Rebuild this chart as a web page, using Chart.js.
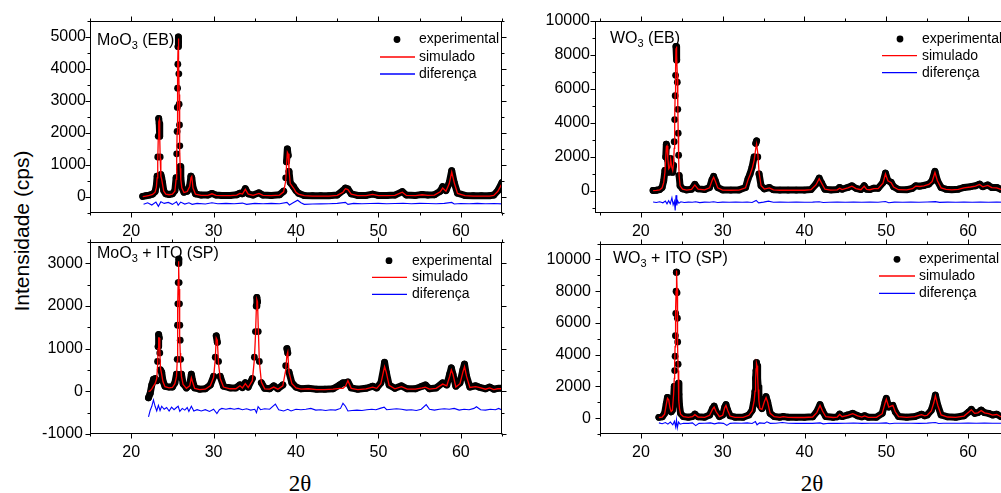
<!DOCTYPE html>
<html>
<head>
<meta charset="utf-8">
<script src="https://cdn.jsdelivr.net/npm/chart.js@4.4.1/dist/chart.umd.min.js"></script>
<style>
  html, body { margin: 0; padding: 0; background: #fff; overflow: hidden; width: 1001px; height: 493px; }
  body { position: relative; font-family: "Liberation Sans", Arial, sans-serif; }
  canvas { position: absolute; }
  #ytitle { position: absolute; left: 22px; top: 231px; transform: translate(-50%, -50%) rotate(-90deg);
            font-size: 21px; white-space: nowrap; color: #000; }
  .xtitle { position: absolute; top: 470px; transform: translateX(-50%); font-family: "Liberation Serif", serif;
            font-size: 23px; line-height: 28px; color: #000; white-space: nowrap; }
</style>
</head>
<body>
<div id="ytitle">Intensidade (cps)</div>
<div class="xtitle" style="left:300px">2θ</div>
<div class="xtitle" style="left:812px">2θ</div>
<script>
// ---- shared ticks
const xTicks = [20, 30, 40, 50, 60];
const moEbYTicks = [0, 1000, 2000, 3000, 4000, 5000];
const moSpYTicks = [-1000, 0, 1000, 2000, 3000];
const woEbYTicks = [0, 2000, 4000, 6000, 8000, 10000];
const woSpYTicks = [0, 2000, 4000, 6000, 8000, 10000];

// ---- MoO3 (EB)
const moEbTheta = [21.4, 21.8, 22.2, 22.6, 22.9, 23.05, 23.15, 23.22, 23.28, 23.34,
  23.4, 23.46, 23.52, 23.6, 23.7, 23.8, 23.95, 24.2, 24.6, 25.0,
  25.3, 25.45, 25.52, 25.57, 25.6, 25.63, 25.66, 25.69, 25.72, 25.75,
  25.78, 25.82, 25.86, 25.9, 25.95, 26.02, 26.15, 26.4, 26.8, 27.1,
  27.25, 27.35, 27.5, 27.8, 28.5, 29.3, 29.8, 30.3, 31.0, 32.0,
  32.8, 33.2, 33.5, 33.85, 34.2, 34.8, 35.5, 36.0, 37.0, 38.0,
  38.5, 38.75, 38.85, 38.95, 39.05, 39.15, 39.3, 39.7, 40.0, 40.3,
  41.0, 42.0, 43.0, 44.0, 45.0, 45.7, 46.0, 46.3, 46.7, 47.5,
  48.5, 49.3, 50.0, 51.0, 52.0, 52.9, 53.4, 54.5, 55.3, 56.0,
  56.8, 57.5, 57.8, 58.2, 58.6, 58.9, 59.2, 59.6, 60.5, 61.5,
  62.5, 63.5, 64.0, 64.5, 65.0];
const moEbExp = [20, 40, 60, 90, 170, 350, 650, 1250, 1900, 2450,
  2300, 1900, 1250, 700, 600, 450, 200, 100, 80, 100,
  200, 600, 1350, 2050, 2800, 3400, 4150, 4700, 5000, 4850,
  3850, 2900, 2250, 1600, 950, 600, 300, 150, 180, 350,
  650, 600, 300, 100, 60, 60, 110, 60, 50, 50,
  70, 120, 100, 260, 100, 60, 130, 60, 50, 70,
  180, 600, 1100, 1500, 1300, 800, 450, 320, 200, 120,
  50, 40, 40, 40, 60, 200, 280, 250, 100, 50,
  50, 90, 50, 50, 60, 170, 60, 50, 80, 60,
  70, 180, 320, 200, 450, 820, 450, 120, 50, 40,
  40, 40, 60, 200, 450];
const moEbSim = [10, 30, 50, 80, 150, 300, 600, 1100, 1800, 2350,
  2400, 1900, 1200, 650, 550, 400, 180, 90, 70, 90,
  180, 550, 1200, 2000, 2700, 3300, 4000, 4700, 4950, 4950,
  4300, 3200, 2300, 1500, 900, 550, 280, 140, 170, 330,
  600, 640, 280, 90, 50, 50, 100, 50, 40, 40,
  60, 110, 90, 240, 90, 50, 110, 50, 40, 60,
  160, 500, 1000, 1400, 1350, 850, 420, 280, 150, 90,
  40, 30, 30, 30, 50, 150, 260, 230, 90, 40,
  40, 80, 40, 40, 50, 150, 50, 40, 70, 50,
  60, 160, 280, 180, 420, 780, 450, 110, 40, 30,
  30, 30, 50, 180, 420];
const moEbDiffTheta = [21.5, 22.0, 22.5, 23.0, 23.3, 23.6, 24.0, 24.5, 25.0, 25.5,
  25.7, 26.0, 26.5, 27.0, 27.4, 28.0, 29.0, 29.8, 30.5, 31.5,
  32.5, 33.5, 34.0, 35.0, 36.0, 37.0, 38.0, 38.9, 39.2, 39.6,
  40.2, 40.6, 41.0, 42.0, 43.0, 44.0, 45.0, 46.0, 46.3, 47.0,
  48.0, 49.0, 50.0, 51.0, 52.0, 53.0, 54.0, 55.0, 56.0, 57.0,
  58.0, 58.9, 59.2, 60.0, 61.0, 62.0, 63.0, 64.0, 65.0];
const moEbDiff = [-230, -180, -250, -160, -290, -150, -200, -170, -230, -150,
  -260, -160, -220, -180, -230, -200, -220, -180, -210, -200,
  -210, -190, -230, -200, -210, -200, -210, -170, -250, -190,
  -100, -180, -230, -220, -215, -210, -200, -170, -230, -200,
  -210, -205, -200, -210, -205, -195, -210, -200, -205, -210,
  -200, -170, -220, -205, -210, -200, -210, -205, -215];

// ---- MoO3 + ITO (SP)
const moSpTheta = [22.1, 22.3, 22.5, 22.7, 22.9, 23.1, 23.2, 23.27, 23.33, 23.4,
  23.47, 23.55, 23.7, 23.85, 24.1, 24.6, 25.0, 25.3, 25.5, 25.58,
  25.62, 25.66, 25.7, 25.74, 25.78, 25.82, 25.86, 25.9, 25.95, 26.0,
  26.1, 26.3, 26.7, 27.1, 27.3, 27.45, 27.7, 28.3, 29.0, 29.6,
  30.0, 30.2, 30.32, 30.45, 30.6, 30.8, 31.2, 32.0, 32.7, 33.2,
  33.5, 33.85, 34.2, 34.7, 34.95, 35.08, 35.18, 35.25, 35.33, 35.42,
  35.55, 35.8, 36.2, 36.8, 37.3, 37.8, 38.4, 38.75, 38.9, 39.0,
  39.15, 39.5, 40.0, 40.6, 41.5, 42.5, 43.5, 44.5, 45.3, 45.7,
  46.0, 46.3, 46.7, 47.5, 48.5, 49.3, 49.8, 50.3, 50.6, 50.75,
  50.95, 51.3, 52.0, 52.8, 53.5, 54.5, 55.3, 55.7, 56.2, 57.0,
  57.8, 58.3, 58.65, 58.85, 59.05, 59.4, 59.9, 60.25, 60.45, 60.7,
  61.1, 61.8, 62.2, 63.0, 63.5, 64.0, 64.5, 65.0];
const moSpExp = [-150, -50, 150, 280, 300, 250, 700, 1050, 1330, 1250,
  900, 500, 450, 250, 120, 100, 100, 200, 400, 750,
  1550, 2050, 2550, 3000, 3100, 2550, 2050, 1550, 1200, 750,
  400, 180, 80, 150, 400, 250, 80, 50, 60, 150,
  350, 800, 1300, 1150, 700, 350, 120, 80, 80, 150,
  90, 200, 100, 300, 800, 1400, 2000, 2200, 2100, 1400,
  700, 200, 70, 60, 130, 60, 150, 600, 1000, 900,
  450, 200, 100, 60, 70, 50, 50, 60, 150, 200,
  200, 220, 80, 50, 70, 120, 80, 200, 500, 680,
  450, 150, 70, 130, 60, 60, 120, 150, 60, 80,
  200, 150, 400, 550, 400, 120, 200, 500, 640, 350,
  100, 130, 100, 60, 100, 50, 70, 70];
const moSpSim = [0, 10, 60, 120, 180, 300, 600, 1000, 1250, 1250,
  950, 550, 400, 230, 110, 80, 90, 180, 350, 700,
  1400, 2000, 2600, 3050, 2950, 2400, 1800, 1300, 900, 600,
  350, 160, 70, 130, 320, 220, 70, 40, 50, 130,
  330, 750, 1250, 1200, 650, 300, 100, 60, 60, 130,
  80, 180, 90, 250, 750, 1300, 1900, 2150, 2100, 1500,
  700, 220, 60, 50, 100, 50, 130, 500, 850, 920,
  450, 180, 80, 50, 60, 40, 40, 50, 70, 70,
  120, 250, 70, 40, 60, 100, 70, 180, 450, 580,
  450, 140, 60, 110, 50, 50, 80, 100, 50, 70,
  170, 130, 350, 500, 400, 100, 180, 450, 580, 350,
  90, 110, 90, 50, 80, 40, 60, 60];
const moSpDiffTheta = [22.1, 22.3, 22.5, 22.7, 22.9, 23.1, 23.3, 23.5, 23.7, 24.0,
  24.3, 24.6, 24.9, 25.2, 25.5, 25.7, 25.9, 26.2, 26.5, 26.8,
  27.0, 27.3, 27.6, 28.0, 28.5, 29.0, 29.5, 30.0, 30.4, 30.7,
  31.0, 31.5, 32.0, 32.5, 33.0, 33.5, 34.0, 34.5, 35.0, 35.2,
  35.4, 35.7, 36.2, 36.8, 37.5, 37.9, 38.5, 39.0, 39.4, 40.0,
  40.6, 41.2, 41.8, 42.4, 43.0, 43.6, 44.2, 44.8, 45.4, 45.7,
  46.0, 46.3, 46.8, 47.4, 48.0, 48.6, 49.2, 49.7, 50.2, 50.7,
  51.0, 51.6, 52.2, 52.8, 53.4, 54.0, 54.6, 55.2, 55.8, 56.2,
  56.8, 57.4, 58.0, 58.6, 59.2, 59.8, 60.4, 61.0, 61.6, 61.9,
  62.4, 63.0, 63.6, 64.2, 64.6, 65.0];
const moSpDiff = [-600, -450, -350, -200, -350, -460, -330, -450, -350, -420,
  -380, -460, -370, -430, -380, -350, -470, -400, -440, -380,
  -470, -350, -460, -430, -460, -430, -470, -420, -520, -430,
  -400, -420, -400, -420, -400, -430, -410, -440, -420, -500,
  -360, -430, -410, -420, -300, -430, -460, -420, -460, -420,
  -430, -420, -400, -440, -430, -450, -430, -440, -400, -280,
  -350, -460, -450, -440, -450, -430, -420, -430, -400, -370,
  -430, -420, -410, -420, -440, -430, -450, -420, -310, -420,
  -440, -420, -410, -420, -400, -440, -420, -430, -400, -360,
  -430, -440, -420, -430, -400, -440];

// ---- WO3 (EB)
const woEbTheta = [21.5, 21.9, 22.3, 22.6, 22.8, 22.95, 23.05, 23.12, 23.2, 23.3,
  23.42, 23.55, 23.65, 23.78, 23.9, 24.0, 24.08, 24.14, 24.2, 24.25,
  24.3, 24.35, 24.4, 24.46, 24.52, 24.57, 24.62, 24.68, 24.8, 25.1,
  25.6, 26.2, 26.6, 27.0, 27.8, 28.4, 28.7, 28.9, 29.1, 29.4,
  30.0, 31.0, 32.0, 32.8, 33.1, 33.35, 33.6, 33.85, 34.05, 34.15,
  34.3, 34.45, 34.7, 35.1, 35.7, 36.2, 37.0, 38.0, 39.0, 40.0,
  40.8, 41.4, 41.8, 42.1, 42.5, 43.2, 44.0, 44.3, 44.6, 45.3,
  45.8, 46.3, 46.9, 47.3, 47.6, 48.0, 48.5, 49.0, 49.6, 49.9,
  50.2, 50.6, 50.9, 51.5, 52.5, 53.2, 53.6, 54.1, 54.6, 55.2,
  55.6, 55.95, 56.25, 56.7, 57.3, 58.0, 58.8, 59.5, 60.3, 60.9,
  61.4, 61.8, 62.4, 62.9, 63.5, 64.0, 64.5, 65.0];
const woEbExp = [30, 40, 80, 200, 600, 1200, 2000, 2750, 2600, 1800,
  1100, 1200, 1900, 1400, 1100, 1500, 2900, 4200, 5600, 6800,
  8500, 8200, 7700, 6400, 4800, 3400, 2100, 900, 300, 120,
  60, 100, 380, 120, 80, 200, 650, 850, 600, 200,
  60, 50, 60, 200, 700, 1000, 1400, 2000, 2800, 2950,
  2000, 1000, 300, 120, 200, 70, 50, 50, 50, 50,
  80, 400, 750, 450, 100, 60, 80, 200, 100, 200,
  300, 150, 80, 300, 100, 80, 160, 150, 500, 1050,
  600, 500, 250, 80, 70, 150, 300, 280, 320, 400,
  600, 1150, 600, 200, 100, 70, 100, 200, 250, 300,
  400, 250, 350, 200, 200, 100, 80, 70];
const woEbSim = [20, 30, 60, 180, 500, 1100, 2000, 2600, 2650, 1900,
  1300, 1400, 1850, 1400, 1200, 1600, 2500, 4200, 5800, 7200,
  8400, 8500, 8000, 6800, 5000, 3300, 2000, 900, 300, 100,
  50, 90, 350, 100, 60, 180, 600, 800, 580, 180,
  50, 40, 50, 180, 650, 950, 1300, 1800, 2500, 2750,
  2200, 1100, 300, 110, 180, 60, 40, 40, 40, 40,
  70, 350, 720, 450, 100, 50, 60, 160, 80, 180,
  280, 140, 70, 270, 90, 70, 140, 130, 450, 1000,
  600, 480, 230, 70, 60, 130, 280, 260, 300, 380,
  550, 1080, 600, 180, 90, 60, 90, 180, 230, 280,
  380, 240, 320, 190, 180, 90, 70, 60];
const woEbDiffTheta = [21.5, 21.9, 22.3, 22.7, 23.0, 23.2, 23.4, 23.6, 23.8, 23.95,
  24.1, 24.2, 24.3, 24.4, 24.5, 24.65, 24.9, 25.3, 25.8, 26.3,
  26.7, 27.2, 27.8, 28.4, 28.9, 29.4, 30.0, 30.8, 31.6, 32.4,
  33.0, 33.6, 34.1, 34.4, 35.0, 35.6, 36.2, 37.0, 38.0, 39.0,
  40.0, 41.0, 41.8, 42.3, 43.0, 44.0, 45.0, 46.0, 47.0, 48.0,
  49.0, 49.9, 50.3, 51.0, 52.0, 53.0, 54.0, 55.0, 56.0, 56.5,
  57.5, 58.5, 59.5, 60.5, 61.5, 62.5, 63.5, 64.5, 65.0];
const woEbDiff = [-650, -680, -640, -700, -600, -760, -580, -760, -400, -820,
  -600, -1150, -250, -850, -580, -720, -640, -680, -660, -670,
  -640, -690, -660, -670, -640, -680, -660, -670, -660, -670,
  -650, -680, -560, -700, -660, -600, -670, -660, -670, -660,
  -670, -660, -640, -680, -665, -660, -670, -650, -665, -660,
  -670, -620, -700, -660, -665, -660, -670, -655, -630, -675,
  -660, -665, -660, -665, -650, -665, -660, -665, -660];

// ---- WO3 + ITO (SP)
const woSpTheta = [22.2, 22.6, 22.9, 23.1, 23.25, 23.4, 23.55, 23.7, 23.85, 24.0,
  24.08, 24.13, 24.18, 24.22, 24.26, 24.3, 24.34, 24.38, 24.42, 24.46,
  24.5, 24.55, 24.6, 24.65, 24.72, 24.85, 25.2, 25.8, 26.3, 26.6,
  27.0, 27.8, 28.4, 28.75, 28.95, 29.2, 29.6, 30.0, 30.25, 30.4,
  30.6, 30.9, 31.5, 32.5, 33.2, 33.6, 33.85, 33.95, 34.02, 34.08,
  34.13, 34.2, 34.27, 34.34, 34.42, 34.55, 34.8, 35.1, 35.3, 35.5,
  35.8, 36.3, 37.0, 37.4, 38.0, 39.0, 40.0, 41.0, 41.5, 41.9,
  42.2, 42.6, 43.5, 44.0, 44.3, 44.6, 45.3, 45.9, 46.5, 47.0,
  47.35, 47.8, 48.8, 49.5, 49.85, 50.0, 50.3, 50.8, 51.1, 51.5,
  52.5, 53.5, 54.3, 54.7, 55.0, 55.5, 55.8, 56.0, 56.3, 56.7,
  57.5, 58.5, 59.5, 60.1, 60.4, 60.8, 61.2, 61.6, 62.0, 62.5,
  63.0, 63.5, 64.0, 64.5, 65.0];
const woSpExp = [50, 80, 300, 900, 1300, 1100, 600, 400, 500, 1300,
  2000, 3000, 3900, 5200, 6600, 8000, 9200, 9200, 7900, 6300,
  4800, 3400, 2200, 1500, 800, 300, 100, 60, 100, 250,
  80, 60, 200, 600, 750, 400, 100, 200, 700, 850,
  500, 150, 60, 60, 200, 500, 1200, 1700, 2500, 3000,
  3500, 3300, 2500, 2000, 1500, 800, 600, 1100, 1350, 1000,
  300, 100, 60, 100, 60, 50, 50, 80, 400, 850,
  450, 100, 50, 80, 250, 100, 200, 300, 150, 80,
  150, 60, 60, 300, 1000, 1250, 700, 800, 400, 100,
  60, 100, 250, 150, 200, 500, 1000, 1450, 800, 200,
  80, 60, 150, 400, 550, 300, 350, 500, 350, 300,
  200, 250, 100, 60, 50];
const woSpSim = [40, 70, 250, 850, 1250, 1150, 650, 420, 500, 1500,
  2500, 3500, 4500, 5500, 6800, 8000, 9000, 9300, 8200, 6500,
  4700, 3000, 1800, 1100, 600, 250, 90, 50, 90, 220,
  70, 50, 180, 550, 700, 400, 90, 180, 650, 800,
  500, 130, 50, 50, 180, 450, 1100, 1700, 2400, 3100,
  3450, 3300, 2600, 1800, 1100, 600, 550, 1050, 1300, 1000,
  300, 90, 50, 90, 50, 40, 40, 70, 350, 800,
  450, 90, 40, 70, 230, 90, 180, 280, 140, 70,
  140, 50, 50, 280, 950, 1200, 700, 800, 400, 90,
  50, 90, 220, 140, 180, 450, 950, 1400, 800, 200,
  70, 50, 130, 380, 520, 300, 330, 480, 330, 290,
  190, 230, 90, 50, 40];
const woSpDiffTheta = [22.2, 22.6, 23.0, 23.3, 23.6, 23.9, 24.1, 24.25, 24.35, 24.45,
  24.6, 24.8, 25.2, 25.8, 26.3, 26.7, 27.1, 27.8, 28.5, 29.0,
  29.5, 30.1, 30.5, 30.9, 31.5, 32.3, 33.0, 33.6, 34.0, 34.2,
  34.5, 35.1, 35.4, 35.8, 36.5, 37.3, 38.0, 39.0, 40.0, 41.0,
  41.9, 42.3, 43.0, 44.0, 45.0, 46.0, 47.0, 48.0, 49.0, 50.0,
  50.4, 51.0, 52.0, 53.0, 54.0, 55.0, 56.0, 56.4, 57.0, 58.0,
  59.0, 60.0, 61.0, 62.0, 63.0, 64.0, 65.0];
const woSpDiff = [-300, -350, -280, -380, -250, -420, -200, -550, -100, -620,
  -250, -380, -320, -330, -300, -470, -330, -320, -300, -360,
  -300, -330, -460, -330, -310, -320, -300, -340, -220, -420,
  -300, -330, -230, -330, -320, -280, -320, -330, -320, -330,
  -300, -360, -320, -330, -320, -310, -330, -320, -325, -300,
  -350, -320, -325, -320, -330, -315, -280, -340, -320, -325,
  -320, -315, -325, -310, -325, -320, -330];

const FONT = '"Liberation Sans", Arial, sans-serif';

// frame with outward major/minor ticks on all four sides
const framePlugin = {
  id: 'frame',
  afterDraw(chart, args, opts) {
    const { ctx, chartArea: a, scales: { x, y } } = chart;
    ctx.save();
    ctx.strokeStyle = '#000';
    ctx.lineWidth = 1;
    const L = Math.round(a.left) + 0.5, R = Math.round(a.right) - 0.5;
    const T = Math.round(a.top) + 0.5, B = Math.round(a.bottom) - 0.5;
    ctx.strokeRect(L, T, R - L, B - T);
    ctx.beginPath();
    for (let v = Math.ceil(x.min / 5) * 5; v <= x.max + 1e-9; v += 5) {
      const px = Math.round(x.getPixelForValue(v)) + 0.5;
      const len = v % 10 === 0 ? 5 : 3;
      ctx.moveTo(px, B); ctx.lineTo(px, B + len);
      ctx.moveTo(px, T); ctx.lineTo(px, T - len);
    }
    const step = opts.yMinor;
    for (let v = Math.ceil(y.min / step) * step; v <= y.max + 1e-9; v += step) {
      const py = Math.round(y.getPixelForValue(v)) + 0.5;
      const len = v % (step * 2) === 0 ? 5 : 3;
      ctx.moveTo(L, py); ctx.lineTo(L - len, py);
      ctx.moveTo(R, py); ctx.lineTo(R + len, py);
    }
    ctx.stroke();
    ctx.restore();
  }
};

// sample name and legend
const notePlugin = {
  id: 'note',
  afterDraw(chart, args, o) {
    const ctx = chart.ctx;
    ctx.save();
    ctx.fillStyle = '#000';
    ctx.textAlign = 'left';
    ctx.textBaseline = 'alphabetic';
    let x = o.labelX;
    ctx.font = '16px ' + FONT;
    ctx.fillText(o.label[0], x, o.labelY);
    x += ctx.measureText(o.label[0]).width;
    ctx.font = '11px ' + FONT;
    ctx.fillText(o.label[1], x, o.labelY + 4);
    x += ctx.measureText(o.label[1]).width;
    ctx.font = '16px ' + FONT;
    ctx.fillText(o.label[2], x, o.labelY);

    const [r1, r2, r3] = o.rows;
    ctx.beginPath();
    ctx.arc(o.dotX, r1, 3.4, 0, Math.PI * 2);
    ctx.fill();
    ctx.lineWidth = 1.3;
    ctx.strokeStyle = '#ff0000';
    ctx.beginPath(); ctx.moveTo(o.lineX[0], r2); ctx.lineTo(o.lineX[1], r2); ctx.stroke();
    ctx.strokeStyle = '#0000ff';
    ctx.beginPath(); ctx.moveTo(o.lineX[0], r3); ctx.lineTo(o.lineX[1], r3); ctx.stroke();
    ctx.font = '14px ' + FONT;
    ctx.textBaseline = 'middle';
    ctx.fillText('experimental', o.textX, r1);
    ctx.fillText('simulado', o.textX, r2);
    ctx.fillText('diferença', o.textX, r3);
    ctx.restore();
  }
};

const pts = (xs, ys) => xs.map((v, i) => ({ x: v, y: ys[i] }));

const panels = [
  { left: 0, top: 0, w: 520, h: 240, area: [90, 21, 502, 213], xMin: 15, xMax: 65, yMin: -500, yMax: 5500,
    yTicks: moEbYTicks, yMinor: 500, yPad: 4,
    theta: moEbTheta, exp: moEbExp, sim: moEbSim, dTheta: moEbDiffTheta, diff: moEbDiff,
    note: { label: ['MoO', '3', ' (EB)'], labelX: 97, labelY: 45, dotX: 397, textX: 419, lineX: [380, 415], rows: [39.5, 57, 74] } },
  { left: 0, top: 225, w: 520, h: 268, area: [90, 17, 502, 209], xMin: 15, xMax: 65, yMin: -1000, yMax: 3500,
    yTicks: moSpYTicks, yMinor: 500, yPad: 7,
    theta: moSpTheta, exp: moSpExp, sim: moSpSim, dTheta: moSpDiffTheta, diff: moSpDiff,
    note: { label: ['MoO', '3', ' + ITO (SP)'], labelX: 97, labelY: 33, dotX: 389, textX: 412, lineX: [372, 407], rows: [35.7, 52.3, 69.3] } },
  { left: 520, top: 0, w: 520, h: 240, area: [75, 21, 489, 213], xMin: 14.4, xMax: 65, yMin: -1300, yMax: 10000,
    yTicks: woEbYTicks, yMinor: 1000, yPad: 5,
    theta: woEbTheta, exp: woEbExp, sim: woEbSim, dTheta: woEbDiffTheta, diff: woEbDiff,
    note: { label: ['WO', '3', ' (EB)'], labelX: 90, labelY: 43, dotX: 380, textX: 402, lineX: [362, 397], rows: [39, 55.7, 72.7] } },
  { left: 520, top: 225, w: 520, h: 268, area: [80, 17, 489, 209], xMin: 15, xMax: 65, yMin: -1000, yMax: 11000,
    yTicks: woSpYTicks, yMinor: 1000, yPad: 9,
    theta: woSpTheta, exp: woSpExp, sim: woSpSim, dTheta: woSpDiffTheta, diff: woSpDiff,
    note: { label: ['WO', '3', ' + ITO (SP)'], labelX: 93, labelY: 38, dotX: 377, textX: 399, lineX: [359, 395], rows: [34.3, 51, 68.3] } }
];

panels.forEach(p => {
  const canvas = document.createElement('canvas');
  canvas.width = p.w;
  canvas.height = p.h;
  canvas.style.left = p.left + 'px';
  canvas.style.top = p.top + 'px';
  canvas.style.width = p.w + 'px';
  canvas.style.height = p.h + 'px';
  document.body.appendChild(canvas);
  const [aL, aT, aR, aB] = p.area;

  new Chart(canvas.getContext('2d'), {
    type: 'line',
    data: {
      datasets: [
        { label: 'simulado', data: pts(p.theta, p.sim), borderColor: '#ff0000', borderWidth: 1.3,
          pointRadius: 0, tension: 0, order: 0 },
        { label: 'diferença', data: pts(p.dTheta, p.diff), borderColor: '#0000ff', borderWidth: 1.1,
          pointRadius: 0, tension: 0, order: 1 },
        { label: 'experimental', data: pts(p.theta, p.exp), borderColor: '#000', backgroundColor: '#000',
          borderWidth: 7, borderJoinStyle: 'round', borderCapStyle: 'round',
          pointRadius: 3.4, pointBorderWidth: 0, pointBackgroundColor: '#000', tension: 0, order: 2,
          segment: { borderColor: c => Math.abs(c.p1.y - c.p0.y) > 13 ? 'rgba(0,0,0,0)' : '#000' } }
      ]
    },
    options: {
      responsive: false,
      animation: false,
      events: [],
      layout: { padding: { left: 0, top: aT, right: p.w - aR, bottom: 0 } },
      plugins: {
        legend: { display: false },
        tooltip: { enabled: false },
        frame: { yMinor: p.yMinor },
        note: p.note
      },
      scales: {
        x: {
          type: 'linear', min: p.xMin, max: p.xMax,
          grid: { display: false, drawTicks: false },
          border: { display: false },
          afterBuildTicks: s => { s.ticks = xTicks.map(v => ({ value: v })); },
          afterFit: s => { s.height = p.h - aB; },
          ticks: { color: '#000', font: { family: FONT, size: 16 }, padding: 9, maxRotation: 0,
                   callback: v => String(v) }
        },
        y: {
          min: p.yMin, max: p.yMax,
          grid: { display: false, drawTicks: false },
          border: { display: false },
          afterBuildTicks: s => { s.ticks = p.yTicks.map(v => ({ value: v })); },
          afterFit: s => { s.width = aL; },
          ticks: { color: '#000', font: { family: FONT, size: 16 }, padding: p.yPad,
                   callback: v => String(v) }
        }
      }
    },
    plugins: [framePlugin, notePlugin]
  });
});
</script>
</body>
</html>
